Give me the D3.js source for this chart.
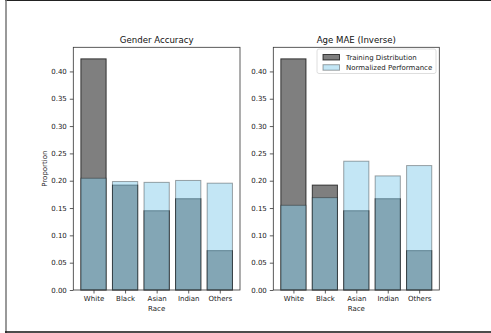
<!DOCTYPE html>
<html>
<head>
<meta charset="utf-8">
<script src="https://cdn.jsdelivr.net/npm/d3@7/dist/d3.min.js"></script>
<style>
  html, body { margin: 0; padding: 0; background: #fff; }
  svg { display: block; font-family: "DejaVu Sans", sans-serif; }
</style>
</head>
<body>
<svg id="chart" width="491" height="333"></svg>
<script>
// Race groups shown on the x axis
const races = ["White", "Black", "Asian", "Indian", "Others"];
// Share of each group in the training set
const trainingDist = [0.423, 0.192, 0.145, 0.167, 0.072];
// Normalized per-group performance for each task
const genderPerf = [0.2045, 0.1985, 0.197, 0.2005, 0.1955];
const agePerf = [0.155, 0.169, 0.2357, 0.2088, 0.2277];
const panelTitles = ["Gender Accuracy", "Age MAE (Inverse)"];
const yTicks = [0, 0.05, 0.10, 0.15, 0.20, 0.25, 0.30, 0.35, 0.40];
const legendLabels = ["Training Distribution", "Normalized Performance"];

const svg = d3.select("#chart");

// outer frame lines
svg.append("line").attr("x1", 5).attr("x2", 491).attr("y1", 0.5).attr("y2", 0.5)
  .attr("stroke", "#222").attr("stroke-width", 1);
svg.append("line").attr("x1", 6).attr("x2", 6).attr("y1", 0).attr("y2", 333)
  .attr("stroke", "#777").attr("stroke-width", 1.5);
svg.append("line").attr("x1", 5).attr("x2", 491).attr("y1", 332).attr("y2", 332)
  .attr("stroke", "#111").attr("stroke-width", 1.5);

const plotTop = 47.3, plotBottom = 290;
const panels = [
  { x0: 73.3, x1: 240, perf: genderPerf, title: panelTitles[0], ylabel: true, legend: false },
  { x0: 273.3, x1: 439.3, perf: agePerf, title: panelTitles[1], ylabel: false, legend: true }
];

const yMax = d3.max([...trainingDist, ...genderPerf, ...agePerf]) * 1.05;
const y = d3.scaleLinear().domain([0, yMax]).range([plotBottom, plotTop]);

const trainFill = "#7f7f7f", trainStroke = "rgba(0,0,0,0.7)";
const perfFill = "rgba(135,206,235,0.5)", perfStroke = "rgba(0,0,0,0.35)";

panels.forEach(p => {
  const x = d3.scaleLinear().domain([-0.64, races.length - 1 + 0.64]).range([p.x0, p.x1]);
  const g = svg.append("g");
  const bw = x(0.4) - x(0);

  // training distribution bars
  g.selectAll(".train").data(trainingDist).join("rect")
    .attr("class", "train")
    .attr("x", (d, i) => x(i) - bw)
    .attr("width", bw * 2)
    .attr("y", d => y(d))
    .attr("height", d => y(0) - y(d))
    .attr("fill", trainFill)
    .attr("stroke", trainStroke).attr("stroke-width", 1);

  // normalized performance bars
  g.selectAll(".perf").data(p.perf).join("rect")
    .attr("class", "perf")
    .attr("x", (d, i) => x(i) - bw)
    .attr("width", bw * 2)
    .attr("y", d => y(d))
    .attr("height", d => y(0) - y(d))
    .attr("fill", perfFill)
    .attr("stroke", perfStroke).attr("stroke-width", 1);

  // axes frame
  g.append("rect").attr("x", p.x0).attr("y", plotTop)
    .attr("width", p.x1 - p.x0).attr("height", plotBottom - plotTop)
    .attr("fill", "none").attr("stroke", "#333").attr("stroke-width", 0.8);

  // y axis
  const yAxis = d3.axisLeft(y).tickValues(yTicks).tickFormat(d3.format(".2f"))
    .tickSize(3.5).tickPadding(3);
  const ya = g.append("g").attr("transform", `translate(${p.x0},0)`).call(yAxis);
  ya.select(".domain").remove();
  ya.selectAll("line").attr("stroke", "#333").attr("stroke-width", 0.8);
  ya.selectAll("text").attr("font-size", 7).attr("fill", "#222")
    .attr("font-family", "DejaVu Sans, sans-serif");

  // x axis
  const xAxis = d3.axisBottom(x).tickValues(d3.range(races.length))
    .tickFormat(i => races[i]).tickSize(3.5).tickPadding(3);
  const xa = g.append("g").attr("transform", `translate(0,${plotBottom})`).call(xAxis);
  xa.select(".domain").remove();
  xa.selectAll("line").attr("stroke", "#333").attr("stroke-width", 0.8);
  xa.selectAll("text").attr("font-size", 7).attr("fill", "#222")
    .attr("font-family", "DejaVu Sans, sans-serif");

  // labels
  const cx = (p.x0 + p.x1) / 2;
  g.append("text").attr("x", cx).attr("y", 43).attr("text-anchor", "middle")
    .attr("font-size", 8.6).attr("fill", "#111").text(p.title);
  g.append("text").attr("x", cx).attr("y", 311).attr("text-anchor", "middle")
    .attr("font-size", 7).attr("fill", "#222").text("Race");
  if (p.ylabel) {
    g.append("text").attr("transform", `translate(46.5,${(plotTop + plotBottom) / 2}) rotate(-90)`)
      .attr("text-anchor", "middle").attr("font-size", 7).attr("fill", "#222")
      .text("Proportion");
  }

  if (p.legend) {
    const lx = 317, ly = 49, lw = 119, lh = 24.5;
    const lg = g.append("g");
    lg.append("rect").attr("x", lx).attr("y", ly).attr("width", lw).attr("height", lh)
      .attr("rx", 2).attr("fill", "rgba(255,255,255,0.8)")
      .attr("stroke", "#d5d5d5").attr("stroke-width", 0.8);
    const items = [
      { fill: trainFill, stroke: trainStroke },
      { fill: perfFill, stroke: perfStroke }
    ];
    items.forEach((it, k) => {
      const ry = ly + 5.5 + k * 10.2;
      lg.append("rect").attr("x", lx + 6).attr("y", ry).attr("width", 16.5).attr("height", 5.5)
        .attr("fill", it.fill).attr("stroke", it.stroke).attr("stroke-width", 1);
      lg.append("text").attr("x", lx + 29).attr("y", ry + 5.2)
        .attr("font-size", 7).attr("fill", "#222").text(legendLabels[k]);
    });
  }
});
</script>
</body>
</html>
